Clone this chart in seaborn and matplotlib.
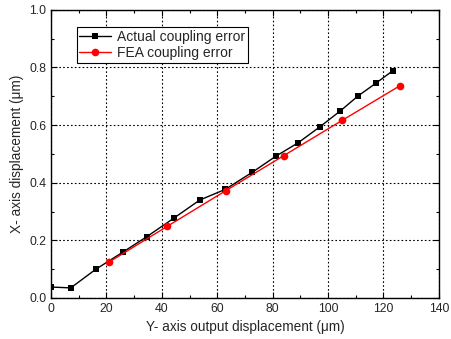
import matplotlib
matplotlib.use("Agg")
import matplotlib.pyplot as plt
import seaborn as sns
import pandas as pd
from matplotlib.ticker import MultipleLocator

actual_x = [0, 7.1, 16.2, 25.9, 34.6, 44.3, 53.7, 62.9, 72.6, 81.3, 89.1, 96.9, 104.4, 110.8, 117.2, 123.4]
actual_y = [0.038, 0.035, 0.100, 0.159, 0.213, 0.277, 0.340, 0.377, 0.436, 0.493, 0.538, 0.593, 0.649, 0.701, 0.745, 0.789]
fea_x = [21, 42, 63, 84, 105, 126]
fea_y = [0.125, 0.249, 0.372, 0.494, 0.616, 0.737]

sns.set_style("ticks")
plt.rcParams['font.family'] = ['Liberation Sans', 'DejaVu Sans']

fig = plt.figure(figsize=(4.52, 3.39), dpi=100)
ax = fig.add_axes([0.113, 0.121, 0.858, 0.850])

df_a = pd.DataFrame({"x": actual_x, "y": actual_y})
df_f = pd.DataFrame({"x": fea_x, "y": fea_y})

sns.lineplot(data=df_a, x="x", y="y", ax=ax, color="black", marker="s", markersize=4.5,
             markeredgewidth=0, linewidth=1.0, sort=False, label="Actual coupling error")
sns.lineplot(data=df_f, x="x", y="y", ax=ax, color="red", marker="o", markersize=5.5,
             markeredgewidth=0, linewidth=1.0, sort=False, label="FEA coupling error")

ax.set_xlim(0, 140)
ax.set_ylim(0, 1.0)
ax.xaxis.set_major_locator(MultipleLocator(20))
ax.xaxis.set_minor_locator(MultipleLocator(10))
ax.yaxis.set_major_locator(MultipleLocator(0.2))
ax.yaxis.set_minor_locator(MultipleLocator(0.1))
ax.yaxis.set_major_formatter(matplotlib.ticker.FormatStrFormatter('%.1f'))
ax.tick_params(which='both', direction='in', top=True, right=True, labelsize=8.8, color='black')
ax.tick_params(which='major', length=4, width=0.8)
ax.tick_params(which='minor', length=2.5, width=0.8)
ax.grid(True, which='major', linestyle=(0, (1.5, 2)), color='black', linewidth=0.8)
for s in ax.spines.values():
    s.set_color('black')
    s.set_linewidth(1.0)

ax.set_xlabel("Y- axis output displacement (\u03bcm)", fontsize=9.8)
ax.set_ylabel("X- axis displacement (\u03bcm)", fontsize=9.8)

leg = ax.legend(loc='upper left', bbox_to_anchor=(0.066, 0.94), fontsize=10, frameon=True,
                fancybox=False, borderpad=0.2, handlelength=2.3, labelspacing=0.15,
                handletextpad=0.4, borderaxespad=0)
leg.get_frame().set_edgecolor('black')
leg.get_frame().set_linewidth(0.8)
leg.get_frame().set_alpha(1)

fig.savefig("out.png", dpi=100)
